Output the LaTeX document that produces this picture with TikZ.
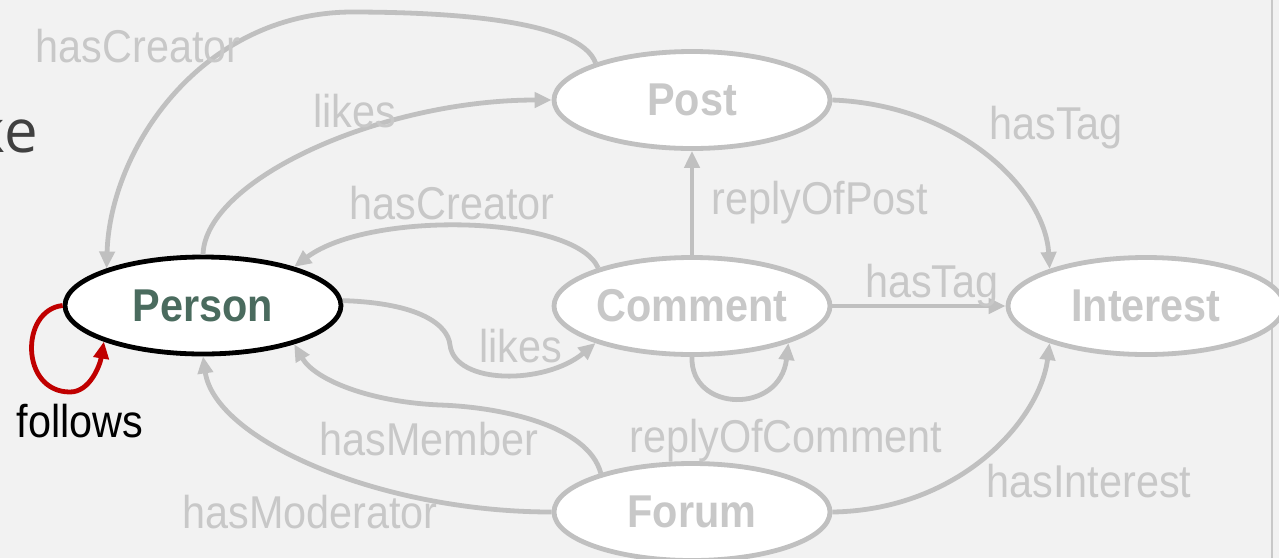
\documentclass[tikz,border=0pt]{standalone}
\usepackage{fontspec}
\setmainfont[FakeStretch=0.9]{Liberation Sans}
\newfontfamily\slidefont{Open Sans}
\usetikzlibrary{shapes.geometric,arrows.meta}
\definecolor{bg}{HTML}{F2F2F2}
\definecolor{edgegray}{HTML}{C0C0C0}
\definecolor{labelgray}{HTML}{C8C8C8}
\definecolor{framegray}{HTML}{C8C8C8}
\definecolor{persongreen}{HTML}{4A6B5E}
\definecolor{loopred}{HTML}{C00000}
\definecolor{slidetext}{HTML}{404040}
\begin{document}
\begin{tikzpicture}[x=1pt,y=-1pt,
  entity/.style={ellipse, draw=edgegray, line width=4.8pt, fill=white,
    minimum width=276pt, minimum height=97pt, inner sep=0pt,
    font=\fontsize{46}{50}\selectfont\bfseries, text=labelgray},
  rel/.style={draw=edgegray, line width=4.8pt, -{Triangle[length=17pt,width=15pt]}},
  rellabel/.style={anchor=base, inner sep=0pt,
    font=\fontsize{46}{50}\selectfont, text=labelgray},
]
% canvas
\useasboundingbox (0,0) rectangle (1279,558);
\fill[bg] (0,0) rectangle (1279,558);
\clip (0,0) rectangle (1279,558);

% slide frame and clipped heading text
\draw[framegray, line width=2pt] (1272,0) -- (1272,558);
\node[anchor=base east, inner sep=0pt, text=slidetext,
  font=\slidefont\fontsize{60}{64}\selectfont] (heading) at (38,152) {ke};

% entities
\node[entity, draw=black, text=persongreen] (person) at (203,305.5) {Person};
\node[entity] (post) at (692,100) {Post};
\node[entity] (comment) at (692,306) {Comment};
\node[entity] (interest) at (1146,306) {Interest};
\node[entity] (forum) at (692,512) {Forum};

% relationships
\draw[rel] (post.159) .. controls (580,20) and (450,12) .. (350,12)
  .. controls (200,14) and (110,150) .. (person.159);
\node[rellabel] (lhc1) at (138,62) {hasCreator};

\draw[rel] (person.90) .. controls (205,180) and (380,100) .. (post.180);
\node[rellabel] (llk1) at (355,127) {likes};

\draw[rel] (comment.158) .. controls (575,215) and (370,210) .. (person.23);
\node[rellabel] (lhc2) at (452,219) {hasCreator};

\draw[rel] (comment.90) -- (post.270);
\node[rellabel] (lrp) at (820,214) {replyOfPost};

\draw[rel] (post.0) .. controls (960,105) and (1045,190) .. (interest.159);
\node[rellabel] (lht1) at (1056,139) {hasTag};

\draw[rel] (comment.0) -- (interest.180);
\node[rellabel] (lht2) at (932,297) {hasTag};

\draw[rel] (person.2) .. controls (420,303) and (448,325) .. (450,345)
  .. controls (455,385) and (545,385) .. (comment.201);
\node[rellabel] (llk2) at (521,362) {likes};

\draw[rel] (comment.270) .. controls (690,412) and (780,415) .. (comment.339);
\node[rellabel] (lrc) at (786,452) {replyOfComment};

\draw[rel] (forum.157) .. controls (588,425) and (500,407) .. (440,405)
  .. controls (370,402) and (315,380) .. (person.337);
\node[rellabel] (lhm) at (429,455) {hasMember};

\draw[rel] (forum.180) .. controls (380,512) and (215,440) .. (person.270);
\node[rellabel] (lmod) at (310,528) {hasModerator};

\draw[rel] (forum.0) .. controls (960,510) and (1040,420) .. (interest.201);
\node[rellabel] (lhi) at (1089,497) {hasInterest};

\draw[draw=loopred, line width=4.8pt, -{Triangle[length=17pt,width=15pt]}]
  (person.180) .. controls (20,310) and (20,392) .. (70,392)
  .. controls (90,392) and (100,365) .. (person.200);
\node[rellabel, text=black] (lfol) at (80,437) {follows};
\end{tikzpicture}
\end{document}
